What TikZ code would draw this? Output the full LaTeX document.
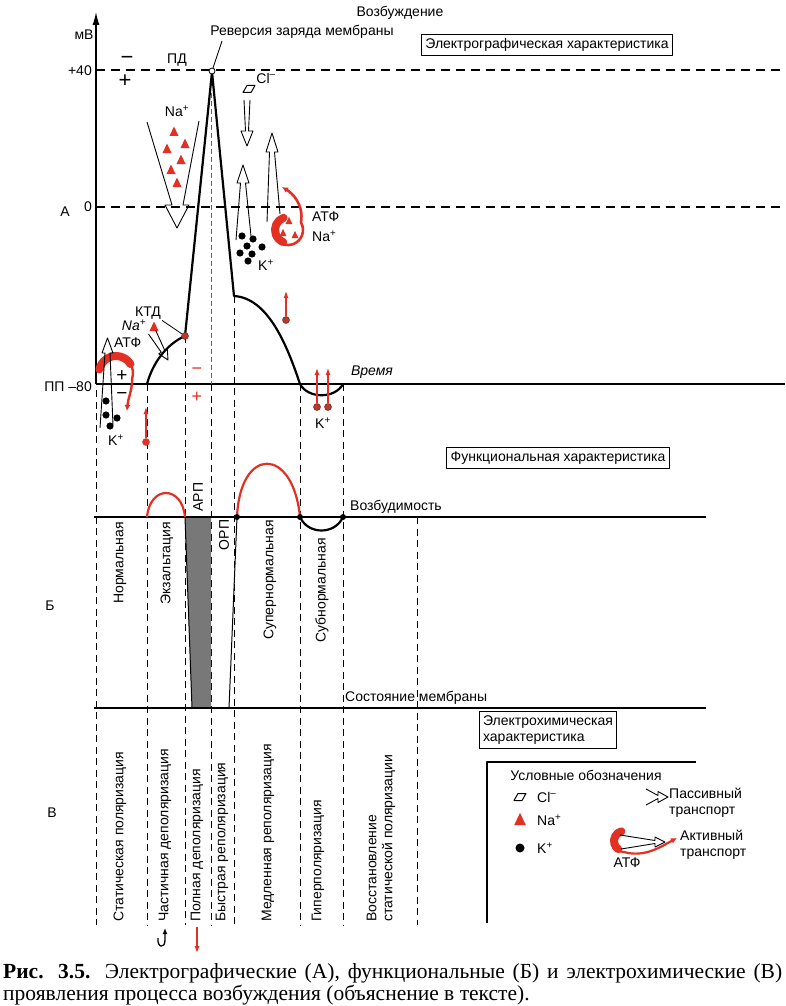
\documentclass[tikz,border=0pt]{standalone}
\usepackage{fontspec}
\setmainfont{Liberation Sans}
\newfontfamily\capfont{Liberation Serif}
\usetikzlibrary{arrows.meta}
\definecolor{ionred}{RGB}{226,48,36}
\definecolor{dotred}{RGB}{180,60,45}
\definecolor{arpgray}{RGB}{120,120,120}

\begin{document}
\begin{tikzpicture}[x=1pt, y=-1pt, line join=round,
  every node/.style={font=\fontsize{14}{16}\selectfont, inner sep=1pt},
  hdash/.style={line width=1.2pt, dash pattern=on 9pt off 6pt},
  vdash/.style={line width=1pt, dash pattern=on 7pt off 4.5pt},
  thinline/.style={line width=1.2pt},
  apline/.style={line width=2.2pt},
  labelbox/.style={draw, line width=1.1pt, inner sep=4pt},
  vlab/.style={rotate=90, inner sep=0pt},
  sign/.style={font=\fontsize{22}{22}\selectfont},
  hollow/.style={line width=0.9pt},
  atp/.style={ionred, line cap=round},
  redarrow/.style={ionred, line width=1.2pt, -{Latex[length=7pt,width=5pt]}},
  iondot/.style={circle, fill=dotred, draw=ionred!50!black, line width=0.5pt, inner sep=0pt, minimum size=7pt},
  kion/.style={fill=black},
  natri/.pic={\fill[ionred] (-4.5,4) -- (4.5,4) -- (0,-5.5) -- cycle;},
  clpar/.pic={\draw[line width=1pt] (-6,3.5) -- (2,3.5) -- (6,-3.5) -- (-2,-3.5) -- cycle;}]
\useasboundingbox (0,0) rectangle (785,1006);

% ---------- А: electrographic part
\draw[thinline, -{Latex[length=13pt,width=7pt]}] (96,384) -- (96,12);
\node (mv) at (84,35) {мВ};
\node[anchor=east] (p40) at (93,71) {+40};
\node[anchor=east] (zero) at (93,207) {0};
\node (secA) at (65,212) {А};
\node[anchor=east] (pp) at (93,387) {ПП –80};
\draw[hdash] (96,70) -- (785,70);
\draw[hdash] (96,207) -- (785,207);
\draw[thinline] (96,384) -- (785,384);
\node[font=\fontsize{14}{16}\selectfont\itshape] (time) at (372,372) {Время};

\node (exc) at (400,13) {Возбуждение};
\node (rev) at (302,32) {Реверсия заряда мембраны};
\node[labelbox] (egbox) at (547,45) {Электрографическая характеристика};
\node[sign] (minA) at (127,60) {−};
\node[sign] (plusA) at (125,81) {+};
\node (pd) at (177,60) {ПД};

% action potential
\coordinate (rest) at (147,384); \coordinate (ktd) at (185,336);
\coordinate (peak) at (212,72); \coordinate (plat) at (234,296);
\coordinate (hyp) at (300,384); \coordinate (back) at (343,384);
\draw[apline] (rest) .. controls (153,362) and (167,344) .. (ktd) -- (peak) -- (plat)
  .. controls (268,298) and (287,345) .. (hyp) .. controls (308,399) and (335,399) .. (back);

% column borders
\draw[vdash] (96,390) -- (96,925);
\draw[vdash] (rest) -- (147,925);
\draw[vdash] (ktd) -- (185,925);
\draw[ionred, line width=0.8pt, dash pattern=on 5pt off 3pt] (211,93) -- (211,384);
\draw[vdash] (211,384) -- (211,925);
\draw[vdash] (plat) -- (234,925);
\draw[vdash] (hyp) -- (300,925);
\draw[vdash] (back) -- (343,925);
\draw[vdash] (417,517) -- (417,925);

\node[circle, draw, fill=white, line width=0.8pt, inner sep=0pt, minimum size=6pt] (peakpt) at (212,71) {};
\coordinate (revfoot) at (222,41);
\draw[line width=0.8pt] (peakpt) -- (revfoot);
\node[iondot] (ktdpt) at (ktd) {};
\node (ktdlbl) at (148,313) {КТД};
\draw[line width=0.8pt] (ktdlbl.south east) -- (ktdpt);
\node[ionred, font=\fontsize{18}{18}\selectfont] (minR) at (197,371) {−};
\node[ionred, font=\fontsize{18}{18}\selectfont] (plusR) at (197,397) {+};

% Na+ inflow
\draw[hollow] (147,122) -- (172,205) -- (165,205) -- (177,228) -- (189,205) -- (183,205) -- (199,121);
\node (naA) at (177,111) {Na\textsuperscript{+}};
\pic at (174,132) {natri}; \pic at (167,149) {natri}; \pic at (185,144) {natri};
\pic at (181,160) {natri}; \pic at (171,170) {natri}; \pic at (177,183) {natri};

% Cl- and K+ outflow
\node (clA) at (266,78) {Cl\textsuperscript{–}};
\pic at (249,89) {clpar};
\draw[hollow] (244,100) -- (245.5,131) -- (241,131) -- (247,146) -- (253,131) -- (248.5,131) -- (250,100);
\draw[hollow] (236,240) -- (240.5,183) -- (237,183) -- (243,165) -- (249,183) -- (245.5,183) -- (251,236);
\draw[hollow] (267,222) -- (269.5,152) -- (266,152) -- (272,133) -- (278,152) -- (274.5,152) -- (280,214);
\fill[kion] (242,236) circle (3.6pt); \fill[kion] (253,239) circle (3.6pt); \fill[kion] (247,246) circle (3.6pt);
\fill[kion] (262,247) circle (3.6pt); \fill[kion] (240,253) circle (3.6pt); \fill[kion] (252,254) circle (3.6pt);
\fill[kion] (248,261) circle (3.6pt);
\node (kA) at (266,265) {K\textsuperscript{+}};

% Na/K pump
\coordinate (atpc) at (288,230);
\draw[atp, line width=8pt] (atpc) ++(250:13) arc (250:112:13);
\draw[atp, line width=2.6pt, -{Latex[length=6pt,width=6pt]}] (atpc) ++(112:15) arc (112:-30:15)
  .. controls (304,204) and (292,193) .. (282,187);
\pic[scale=0.75] at (289,221) {natri}; \pic[scale=0.75] at (283,233) {natri}; \pic[scale=0.75] at (295,235) {natri};
\node[anchor=west] (atpA) at (311,217) {АТФ};
\node[anchor=west] (naB) at (311,236) {Na\textsuperscript{+}};

% resting state
\coordinate (lc) at (116,373);
\draw[atp, line width=8pt] (lc) ++(192:17) arc (192:328:17);
\draw[atp, line width=2.4pt, -{Latex[length=6pt,width=6pt]}] (lc) ++(328:17) arc (328:378:17)
  .. controls (132,392) and (128,398) .. (127,411);
\node[font=\fontsize{19}{19}\selectfont, inner sep=0pt] (plusL) at (122,376) {+};
\node[font=\fontsize{19}{19}\selectfont, inner sep=0pt] (minL) at (122,396) {−};
\draw[hollow] (100,428) -- (105,353) -- (102,353) -- (107.5,338) -- (113,353) -- (110,353) -- (113,425);
\node[anchor=west] (atpL) at (113,343) {АТФ};
\fill[kion] (106,401) circle (3.6pt); \fill[kion] (106,415) circle (3.6pt);
\fill[kion] (117,418) circle (3.6pt); \fill[kion] (110,426) circle (3.6pt);
\node (kL) at (116,440) {K\textsuperscript{+}};

% partial depolarisation
\node[font=\fontsize{14}{16}\selectfont\itshape] (naK) at (134,325) {Na\textsuperscript{+}};
\pic at (154,327) {natri};
\draw[hollow] (148.5,334) -- (161.3,352.3) -- (158.7,353.8) -- (168,360) -- (167.3,348.8) -- (164.7,350.3) -- (155.5,330);

% red K+ arrows
\node[iondot, fill=ionred, draw=ionred] (k0) at (146,442) {}; \coordinate (k0t) at (146,407);
\draw[redarrow] (k0) -- (k0t);
\node[iondot] (k1) at (286,320) {}; \coordinate (k1t) at (286,291);
\draw[redarrow] (k1) -- (k1t);
\node[iondot] (k2) at (317,407) {}; \coordinate (k2t) at (317,368);
\draw[redarrow] (k2) -- (k2t);
\node[iondot] (k3) at (328,407) {}; \coordinate (k3t) at (328,368);
\draw[redarrow] (k3) -- (k3t);
\node (kH) at (323,423) {K\textsuperscript{+}};

% ---------- Б: functional part
\node[labelbox] (fnbox) at (558,458) {Функциональная характеристика};
\fill[arpgray] (185,517) -- (211,517) -- (211,708) -- (192,708) -- cycle;
\draw[line width=1pt] (185,517) -- (192,708);
\draw[line width=1pt] (237,517) -- (229,708);
\draw[thinline] (94,517) -- (706,517);
\draw[thinline] (94,708) -- (706,708);
\draw[ionred, line width=2.2pt] (147,517) .. controls (150,485) and (182,485) .. (185,517);
\draw[ionred, line width=2.2pt] (237,517) .. controls (240,446) and (293,446) .. (300,517);
\draw[line width=2.2pt] (300,517) .. controls (308,535) and (335,535) .. (343,517);
\fill (237,517) circle (3pt); \fill (300,517) circle (3pt); \fill (343,517) circle (3pt);
\node[anchor=west] (exlbl) at (349,507) {Возбудимость};
\node[anchor=west] (stlbl) at (344,698) {Состояние мембраны};
\node (secB) at (50,606) {Б};
\node[vlab] (arp) at (198,497) {АРП};
\node[vlab] (orp) at (224,535) {ОРП};
\node[vlab, anchor=east] (norm) at (120,522) {Нормальная};
\node[vlab, anchor=east] (exalt) at (167,522) {Экзальтация};
\node[vlab, anchor=east] (super) at (270,520) {Супернормальная};
\node[vlab, anchor=east] (sub) at (322,538) {Субнормальная};

% ---------- В: electrochemical part
\node[labelbox, align=left] (ecbox) at (548,730) {Электрохимическая\\характеристика};
\node (secV) at (52,813) {В};
\node[vlab, anchor=west] (ph1) at (120,922) {Статическая поляризация};
\node[vlab, anchor=west] (ph2) at (165,922) {Частичная деполяризация};
\node[vlab, anchor=west] (ph3) at (197,922) {Полная деполяризация};
\node[vlab, anchor=west] (ph4) at (222,922) {Быстрая реполяризация};
\node[vlab, anchor=west] (ph5) at (268,922) {Медленная реполяризация};
\node[vlab, anchor=west] (ph6) at (318,922) {Гиперполяризация};
\node[vlab, anchor=west, align=left] (ph7) at (381,922) {Восстановление\\статической поляризации};
\draw[line width=1.3pt, -{Latex[length=6pt,width=5pt]}] (158,938) .. controls (157,948) and (165,949) .. (165,940) -- (165,928);
\draw[redarrow] (197,927) -- (197,953);

% legend
\draw[thinline] (487,923) -- (487,762) -- (696,762);
\node (legtitle) at (586,775) {Условные обозначения};
\pic at (520,797) {clpar};
\node[anchor=west] (lcl) at (536,797) {Cl\textsuperscript{–}};
\pic[scale=1.3] at (520,820) {natri};
\node[anchor=west] (lna) at (536,820) {Na\textsuperscript{+}};
\fill[kion] (520,848) circle (4.5pt);
\node[anchor=west] (lk) at (536,848) {K\textsuperscript{+}};
\draw[hollow] (646,789) -- (658,795.5) -- (658,791.5) -- (668,797) -- (658,802.5) -- (658,798.5) -- (646,805);
\node[anchor=west, align=left] (lpas) at (668,803) {Пассивный\\транспорт};
\coordinate (legc) at (624,841);
\draw[atp, line width=8pt] (legc) ++(255:10) arc (255:125:10);
\draw[atp, line width=2.2pt, -{Latex[length=6pt,width=6pt]}] (legc) ++(125:11) arc (125:90:11)
  .. controls (645,858) and (662,846) .. (677,838);
\draw[hollow] (620,835) -- (655,840.5) -- (655,837) -- (665,842) -- (655,847) -- (655,843.5) -- (621,849);
\node[anchor=west, align=left] (lact) at (679,845) {Активный\\транспорт};
\node (latp) at (627,863) {АТФ};

% caption
\node[anchor=west, inner sep=0pt, font=\capfont\fontsize{21.5}{22}\selectfont] (cap1) at (3,973)
  {\makebox[779pt][s]{\textbf{Рис. 3.5.} Электрографические (А), функциональные (Б) и электрохимические (В)}};
\node[anchor=west, inner sep=0pt, font=\capfont\fontsize{21.5}{22}\selectfont] (cap2) at (3,995)
  {проявления процесса возбуждения (объяснение в тексте).};
\end{tikzpicture}
\end{document}
